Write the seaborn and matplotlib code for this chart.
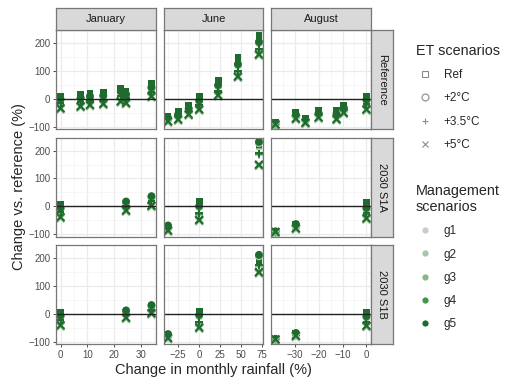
import numpy as np
import pandas as pd
import seaborn as sns
import matplotlib.pyplot as plt
from matplotlib.lines import Line2D

months = ["January", "June", "August"]
scenarios = ["Reference", "2030 S1A", "2030 S1B"]
et_levels = ["Ref", "+2°C", "+3.5°C", "+5°C"]
mgmt_levels = ["g1", "g2", "g3", "g4", "g5"]
mgmt_colors = ["#c9cdc9", "#a6c6a6", "#88b888", "#46964a", "#1f6b2f"]
# lighter management scenarios sit slightly under g5
mgmt_offset = [-6, -4.5, -3, -1.5, 0]

# rainfall change (%) per facet column
rain_ref_jan = [0, 7.5, 11, 16, 22.5, 24.5, 34]
rain_ref_jun = [-37, -25, -12.5, 0, 22.5, 46, 71]
rain_ref_aug = [-38, -29.5, -25.5, -20, -12.5, -9.5, 0]
rain_s1_jan = [0, 24.5, 34]
rain_s1_jun = [-37, 0, 71]
rain_s1_aug = [-38, -29.5, 0]

# change vs. reference (%), one list per ET scenario (Ref, +2, +3.5, +5)
ref_jan = [[8, 15, 21, 24, 39, 27, 55],
           [0, 5, 10, 13, 28, 17, 42],
           [-15, -10, -6, -3, 12, 2, 25],
           [-33, -26, -21, -17, -8, -14, 10]]
ref_jun = [[-62, -46, -22, 10, 66, 147, 228],
           [-68, -55, -33, -5, 50, 125, 205],
           [-74, -63, -44, -22, 30, 100, 180],
           [-80, -73, -55, -37, 14, 81, 160]]
ref_aug = [[-85, -50, -70, -43, -43, -23, 10],
           [-88, -56, -74, -50, -52, -30, -2],
           [-90, -63, -79, -58, -62, -40, -20],
           [-91, -70, -85, -66, -72, -49, -37]]
s1a_jan = [[8, 10, 30], [-5, 18, 37], [-20, 0, 20], [-38, -14, 3]]
s1a_jun = [[-72, 18, 222], [-68, 2, 232], [-78, -25, 190], [-86, -48, 150]]
s1a_aug = [[-90, -66, 14], [-89, -63, -5], [-90, -72, -25], [-91, -78, -42]]
s1b_jan = [[5, 6, 26], [-6, 13, 32], [-22, -3, 14], [-40, -13, 3]]
s1b_jun = [[-75, 8, 190], [-72, -3, 212], [-80, -28, 175], [-86, -48, 150]]
s1b_aug = [[-90, -71, 5], [-89, -68, -8], [-90, -74, -28], [-91, -78, -42]]

panels = [
    ("Reference", "January", rain_ref_jan, ref_jan),
    ("Reference", "June", rain_ref_jun, ref_jun),
    ("Reference", "August", rain_ref_aug, ref_aug),
    ("2030 S1A", "January", rain_s1_jan, s1a_jan),
    ("2030 S1A", "June", rain_s1_jun, s1a_jun),
    ("2030 S1A", "August", rain_s1_aug, s1a_aug),
    ("2030 S1B", "January", rain_s1_jan, s1b_jan),
    ("2030 S1B", "June", rain_s1_jun, s1b_jun),
    ("2030 S1B", "August", rain_s1_aug, s1b_aug),
]

rows = []
for scen, month, rain, vals in panels:
    for i, et in enumerate(et_levels):
        for j, g in enumerate(mgmt_levels):
            for x, v in zip(rain, vals[i]):
                rows.append(dict(scenario=scen, month=month, rain=x, et=et,
                                 mgmt=g, change=v + mgmt_offset[j]))
df = pd.DataFrame(rows)

sns.set_style("white")
plt.rcParams["font.family"] = ["Liberation Sans", "DejaVu Sans"]

W, H = 522, 387
fig = plt.figure(figsize=(W / 100, H / 100), dpi=100)


def frac(x, y, w, h):
    return [x / W, 1 - (y + h) / H, w / W, h / H]


col_left = [56, 163.5, 271]
row_top = [30, 137.5, 245]
pw, ph = 100, 99
border = "#777777"

markers = {"Ref": "s", "+2°C": "o", "+3.5°C": "+", "+5°C": "x"}
palette = dict(zip(mgmt_levels, mgmt_colors))

xticks = {"January": ([0, 10, 20, 30], [5, 15, 25, 35]),
          "June": ([-25, 0, 25, 50, 75], [-37.5, -12.5, 12.5, 37.5, 62.5]),
          "August": ([-30, -20, -10, 0], [-35, -25, -15, -5])}

axes = [[None] * 3 for _ in range(3)]
for r, scen in enumerate(scenarios):
    for c, month in enumerate(months):
        kw = {}
        if r > 0:
            kw["sharex"] = axes[0][c]
        if r + c > 0:
            kw["sharey"] = axes[0][0]
        ax = fig.add_axes(frac(col_left[c], row_top[r], pw, ph), **kw)
        axes[r][c] = ax
        ax.set_axisbelow(True)
        sub = df[(df.scenario == scen) & (df.month == month)]
        for et in et_levels:
            d = sub[sub.et == et]
            filled = et in ("Ref", "+2°C")
            sns.scatterplot(data=d, x="rain", y="change", hue="mgmt",
                            hue_order=mgmt_levels, palette=palette,
                            marker=markers[et], s=24 if et == "Ref" else 30,
                            linewidth=0 if filled else 1.4,
                            edgecolor="none" if filled else None,
                            legend=False, ax=ax)
        ax.axhline(0, color="#222222", lw=1.0, zorder=1.5)
        maj, mnr = xticks[month]
        ax.set_xticks(maj)
        ax.set_xticks(mnr, minor=True)
        ax.set_yticks([-100, 0, 100, 200])
        ax.set_yticks([-50, 50, 150], minor=True)
        ax.grid(True, which="major", color="#ebebeb", lw=0.9)
        ax.grid(True, which="minor", color="#f3f3f3", lw=0.5)
        ax.set_xlabel("")
        ax.set_ylabel("")
        for sp in ax.spines.values():
            sp.set_color(border)
            sp.set_linewidth(0.9)
        ax.tick_params(which="minor", length=0)
        ax.tick_params(which="major", labelsize=7, labelcolor="#4d4d4d",
                       length=2.5, width=0.6, color="#333333", pad=1.5,
                       left=(c == 0), labelleft=(c == 0),
                       bottom=(r == 2), labelbottom=(r == 2))

for ax in axes[0]:
    ax.set_ylim(-108, 247)

# facet strips
for c, month in enumerate(months):
    s = fig.add_axes(frac(col_left[c], 7.5, pw, 22.5))
    s.set_facecolor("#d9d9d9")
    s.set_xticks([])
    s.set_yticks([])
    for sp in s.spines.values():
        sp.set_color(border)
        sp.set_linewidth(0.9)
    s.text(0.5, 0.5, month, ha="center", va="center", fontsize=8,
           color="#1a1a1a", transform=s.transAxes)
for r, scen in enumerate(scenarios):
    s = fig.add_axes(frac(371, row_top[r], 22, ph))
    s.set_facecolor("#d9d9d9")
    s.set_xticks([])
    s.set_yticks([])
    for sp in s.spines.values():
        sp.set_color(border)
        sp.set_linewidth(0.9)
    s.text(0.5, 0.5, scen, ha="center", va="center", fontsize=8,
           color="#1a1a1a", rotation=-90, transform=s.transAxes)

fig.text(213.5 / W, 1 - 370 / H, "Change in monthly rainfall (%)",
         ha="center", va="center", fontsize=10.5)
fig.text(19 / W, 1 - 187 / H, "Change vs. reference (%)",
         ha="center", va="center", rotation=90, fontsize=10.5)

# legends
et_handles = [Line2D([], [], ls="", marker=markers[e], markersize=5,
                     markerfacecolor="none", markeredgecolor="#8a8a8a",
                     markeredgewidth=0.8) for e in et_levels]
fig.legend(et_handles, et_levels, title="ET scenarios",
           loc="upper left", bbox_to_anchor=(416 / W, 1 - 44 / H),
           frameon=False, fontsize=8.5, title_fontsize=10.4,
           labelspacing=0.95, handlelength=1.6, handletextpad=0.75,
           borderpad=0, borderaxespad=0, alignment="left")
mg_handles = [Line2D([], [], ls="", marker="o", markersize=4.5,
                     markerfacecolor=col, markeredgecolor="none")
              for col in mgmt_colors]
fig.legend(mg_handles, mgmt_levels, title="Management\nscenarios",
           loc="upper left", bbox_to_anchor=(416 / W, 1 - 184 / H),
           frameon=False, fontsize=8.5, title_fontsize=10.4,
           labelspacing=0.95, handlelength=1.6, handletextpad=0.75,
           borderpad=0, borderaxespad=0, alignment="left")

fig.savefig("out.png", dpi=100)
